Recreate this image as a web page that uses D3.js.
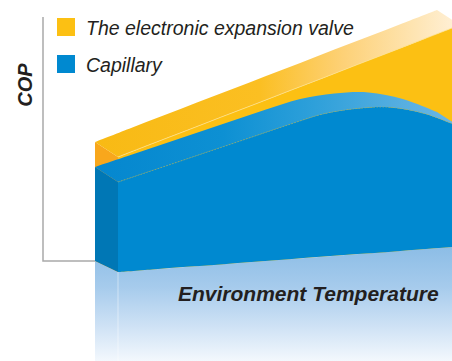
<!DOCTYPE html>
<html>
<head>
<meta charset="utf-8">
<script src="https://cdn.jsdelivr.net/npm/d3@7"></script>
<style>
  body { margin: 0; background: #fff; }
  svg { display: block; }
  text { font-family: "Liberation Sans", Arial, sans-serif; fill: #231f20; }
</style>
</head>
<body>
<svg id="chart"></svg>
<script>
let w = 452;
let h = 361;

// environment temperature steps (arbitrary units, no tick labels in the picture)
let temps = [0, 1, 2, 3, 4, 5, 6, 7, 8, 9, 10];
let eevCop = [45.6, 50.7, 55.7, 60.8, 65.8, 70.9, 75.9, 81.0, 86.0, 91.1, 96.2];
let capCop = [36.0, 40.4, 44.8, 49.2, 53.6, 58.0, 62.1, 64.2, 64.6, 62.1, 57.1];
let baseCop = [0, 1.0, 2.0, 2.9, 3.9, 4.9, 5.9, 6.9, 7.8, 8.8, 9.8];

let seriesNames = ["The electronic expansion valve", "Capillary"];
let axisTitleX = "Environment Temperature";
let axisTitleY = "COP";

let svg, xScale, yScale;
// 3d depth of the ribbons
let dx = 23, dy = 15, dyBase = 11;

function initGraph() {
  svg = d3.select('#chart')
    .attr('width', w)
    .attr('height', h);

  xScale = d3.scaleLinear().domain([0, 10]).range([95, 437]);
  yScale = d3.scaleLinear().domain([0, 100]).range([261, 0]);

  const defs = svg.append('defs');

  let grad = (id, x1, y1, x2, y2, stops) => {
    let g = defs.append('linearGradient').attr('id', id)
      .attr('gradientUnits', 'userSpaceOnUse')
      .attr('x1', x1).attr('y1', y1).attr('x2', x2).attr('y2', y2);
    stops.forEach(s => g.append('stop').attr('offset', s[0]).attr('stop-color', s[1]));
  };
  grad('yTop', 95, 0, 460, 0, [[0, '#f8ba14'], [0.45, '#fbbf22'], [0.68, '#fdd177'], [0.88, '#fee5b4'], [1, '#fff1da']]);
  grad('bTop', 95, 0, 460, 0, [[0, '#0587cf'], [0.35, '#0d90d3'], [0.6, '#2ea0da'], [0.85, '#58afe1'], [1, '#6cb8e6']]);
  grad('refl', 0, 247, 0, 361, [[0, '#8cbde6'], [0.35, '#a6cbec'], [0.7, '#cfe2f5'], [1, '#f3f8fd']]);

  let eev = temps.map((t, i) => ({ t: t, v: eevCop[i], b: baseCop[i] }));
  let cap = temps.map((t, i) => ({ t: t, v: capCop[i], b: baseCop[i] }));

  let curve = d3.curveCatmullRom.alpha(0.5);
  let backLine = d3.line().curve(curve).x(d => xScale(d.t)).y(d => yScale(d.v));
  let frontLine = d3.line().curve(curve).x(d => xScale(d.t) + dx).y(d => yScale(d.v) + dy);
  let frontArea = d3.area().curve(curve)
    .x(d => xScale(d.t) + dx)
    .y0(d => yScale(d.b) + dyBase)
    .y1(d => yScale(d.v) + dy);

  let topFace = data => backLine(data) + 'L' + frontLine(data.slice().reverse()).slice(1) + 'Z';
  let sideFace = data => {
    let d = data[0];
    let x0 = xScale(d.t), yt = yScale(d.v), yb = yScale(d.b);
    return `M${x0},${yt}L${x0 + dx},${yt + dy}L${x0 + dx},${yb + dyBase}L${x0},${yb}Z`;
  };

  // axis lines
  svg.append('path')
    .attr('d', `M${xScale(0) - 52},17V${yScale(0)}H${xScale(0)}`)
    .attr('fill', 'none')
    .attr('stroke', '#a9a9a9')
    .attr('stroke-width', 1.5);

  // reflection under the blue block
  let last = cap[cap.length - 1];
  let reflPath = `M${xScale(0)},${yScale(cap[0].b)}` +
    `L${xScale(0) + dx},${yScale(cap[0].b) + dyBase}` +
    `L${xScale(last.t) + dx},${yScale(last.b) + dyBase}` +
    `L${xScale(last.t) + dx},${h}L${xScale(0)},${h}Z`;
  svg.append('path').attr('d', reflPath).attr('fill', 'url(#refl)');
  svg.append('line')
    .attr('x1', xScale(0) + dx).attr('x2', xScale(0) + dx)
    .attr('y1', yScale(cap[0].b) + dyBase).attr('y2', h)
    .attr('stroke', '#ffffff').attr('stroke-opacity', 0.45).attr('stroke-width', 1);

  // yellow ribbon
  svg.append('path').attr('d', frontArea(eev)).attr('fill', '#fcc013');
  svg.append('path').attr('d', sideFace(eev)).attr('fill', '#f8a71c');
  svg.append('path').attr('d', topFace(eev)).attr('fill', 'url(#yTop)');
  svg.append('path').attr('d', frontLine(eev))
    .attr('fill', 'none').attr('stroke', '#fde08a').attr('stroke-width', 0.8);

  // blue ribbon
  svg.append('path').attr('d', frontArea(cap)).attr('fill', '#0089d0');
  svg.append('path').attr('d', sideFace(cap)).attr('fill', '#0077b5');
  svg.append('path').attr('d', topFace(cap)).attr('fill', 'url(#bTop)');
  svg.append('path').attr('d', frontLine(cap))
    .attr('fill', 'none').attr('stroke', '#8fae7a').attr('stroke-width', 0.7)
    .attr('stroke-dasharray', '1.5,1.5');

  // legend
  let legendColors = ['#fcc013', '#0089d0'];
  let legend = svg.selectAll('g.legend')
    .data(seriesNames)
    .enter()
    .append('g')
    .attr('class', 'legend')
    .attr('transform', (d, i) => `translate(57, ${18 + i * 37})`);
  legend.append('rect')
    .attr('width', 18).attr('height', 18)
    .attr('fill', (d, i) => legendColors[i]);
  legend.append('text')
    .attr('x', 29).attr('y', 17)
    .attr('font-size', 19.5)
    .attr('font-style', 'italic')
    .text(d => d);

  // axis titles
  svg.append('text')
    .attr('x', 178).attr('y', 301)
    .attr('font-size', 21)
    .attr('font-weight', 'bold')
    .attr('font-style', 'italic')
    .text(axisTitleX);

  svg.append('text')
    .attr('transform', 'translate(32, 85) rotate(-90)')
    .attr('text-anchor', 'middle')
    .attr('font-size', 20)
    .attr('font-weight', 'bold')
    .attr('font-style', 'italic')
    .text(axisTitleY);
}

window.onload = initGraph;
</script>
</body>
</html>
